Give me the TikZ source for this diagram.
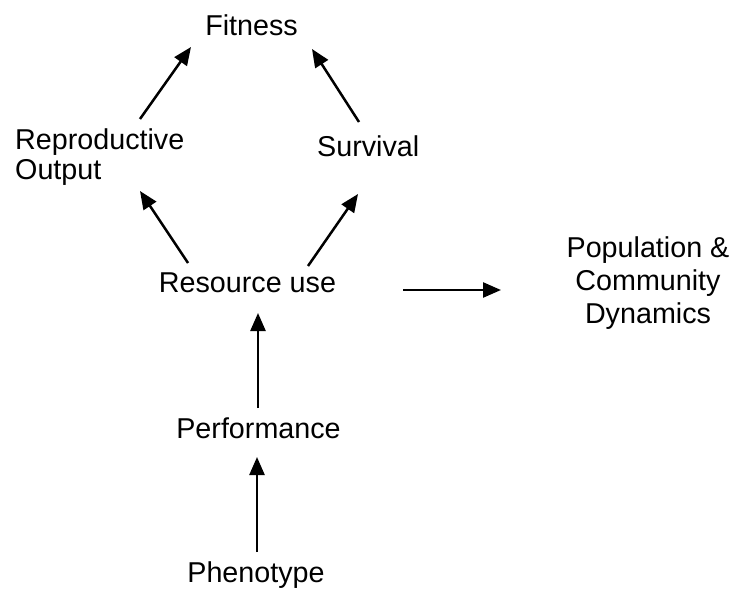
\documentclass[tikz,border=0pt]{standalone}
\usepackage{fontspec}
\setmainfont{Liberation Sans}
\usetikzlibrary{arrows.meta}
\tikzset{
  lbl/.style={inner sep=0pt, font=\fontsize{28.7}{30}\selectfont},
  arr/.style={line width=2.5pt, -{Triangle[length=18pt,width=15pt]}}
}
\begin{document}
\begin{tikzpicture}[x=1pt,y=-1pt]
\useasboundingbox[fill=white] (0,0) rectangle (735,593);
\node[lbl, anchor=base] (fit) at (251.5,36) {Fitness};
\node[lbl, anchor=west, align=left] (repro) at (15,156.7) {Reproductive\\Output};
\node[lbl, anchor=base west] (surv) at (317,157) {Survival};
\node[lbl, anchor=base] (res) at (247.5,292) {Resource use};
\node[lbl, anchor=center, align=center, font=\fontsize{28.7}{33}\selectfont] (pop) at (648,283.5) {Population \&\\Community\\Dynamics};
\node[lbl, anchor=base] (perf) at (258.5,438) {Performance};
\node[lbl, anchor=base] (phen) at (256,582) {Phenotype};
\draw[arr] ([shift={(125,-37.7)}]repro.west) -- ([shift={(-60.5,11)}]fit.base);
\draw[arr] ([shift={(42,-35)}]surv.base west) -- ([shift={(60.5,13)}]fit.base);
\draw[arr] ([shift={(-59.5,-29)}]res.base) -- ([shift={(125,34.3)}]repro.west);
\draw[arr] ([shift={(60.5,-26)}]res.base) -- ([shift={(41,37)}]surv.base west);
\draw[arr] ([shift={(155.5,-2)}]res.base) -- ([shift={(-147,6.5)}]pop.center);
\draw[arr] ([shift={(-0.5,-30)}]perf.base) -- ([shift={(10.5,21)}]res.base);
\draw[arr] ([shift={(1,-30)}]phen.base) -- ([shift={(-1.5,19)}]perf.base);
\end{tikzpicture}
\end{document}
